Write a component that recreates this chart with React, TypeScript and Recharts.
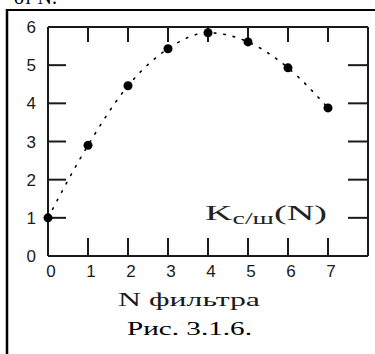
import React from 'react';
import { ComposedChart, Line, XAxis, YAxis, ReferenceLine } from 'recharts';

// Signal-to-noise gain of each filter
const filterNumbers = [0, 1, 2, 3, 4, 5, 6, 7];
const snrGain = [1.0, 2.9, 4.46, 5.43, 5.85, 5.61, 4.93, 3.88];

// Axis ticks
const xTicks = [0, 1, 2, 3, 4, 5, 6, 7, 8];
const xTickLabels = ['0', '1', '2', '3', '4', '5', '6', '7', ''];
const yTicks = [0, 1, 2, 3, 4, 5, 6];
const yTickLabels = ['0', '1', '2', '3', '4', '5', '6'];

const data = filterNumbers.map((n, i) => ({ n, k: snrGain[i] }));

// Layout
const W = 375;
const H = 354;
const LEFT = 48;
const RIGHT = 7;
const TOP = 27;
const BOTTOM = 98;
const X_MAX = 8;
const Y_MAX = 6;
const pxPerX = (W - LEFT - RIGHT) / X_MAX;
const pxPerY = (H - TOP - BOTTOM) / Y_MAX;

// Inward frame tick lengths, in pixels
const TICK_BOTTOM = 18;
const TICK_TOP = 15;
const TICK_LEFT = 18;
const TICK_RIGHT = 20;

const INK = '#1a1a1a';
const tickFont = '"Liberation Sans", Arial, sans-serif';
const serif = '"Liberation Serif", "Times New Roman", serif';

const renderBottomLabel = (props: any) => {
  const { x, y, index } = props;
  return (
    <text key={`b-${index}`} x={Number(x) + 3} y={Number(y) + 21} textAnchor="middle" fontFamily={tickFont} fontSize={17} fill={INK}>
      {xTickLabels[index] ?? ''}
    </text>
  );
};

const renderLeftLabel = (props: any) => {
  const { x, y, index } = props;
  return (
    <text key={`l-${index}`} x={Number(x) - 12} y={Number(y) + 6} textAnchor="end" fontFamily={tickFont} fontSize={17} fill={INK}>
      {yTickLabels[index] ?? ''}
    </text>
  );
};

export default function App() {
  const axisLine = { stroke: INK, strokeWidth: 2 };
  const innerX = xTicks.slice(1, -1);
  const innerY = yTicks.slice(1, -1);
  const seg = { xAxisId: 'bottom', yAxisId: 'left', stroke: INK, strokeWidth: 2, ifOverflow: 'visible' as const };
  return (
    <div style={{ position: 'absolute', left: 0, top: 0, width: W, height: H, background: '#fff' }}>
      <ComposedChart width={W} height={H} data={data} margin={{ top: 0, right: 0, bottom: 0, left: 0 }}>
        <XAxis
          xAxisId="bottom"
          dataKey="n"
          type="number"
          domain={[0, X_MAX]}
          ticks={xTicks}
          interval={0}
          height={BOTTOM}
          tickSize={0}
          tickMargin={0}
          axisLine={axisLine}
          tickLine={false}
          tick={renderBottomLabel}
        />
        <XAxis
          xAxisId="top"
          orientation="top"
          dataKey="n"
          type="number"
          domain={[0, X_MAX]}
          ticks={xTicks}
          height={TOP}
          axisLine={axisLine}
          tickLine={false}
          tick={false}
        />
        <YAxis
          yAxisId="left"
          orientation="left"
          type="number"
          domain={[0, Y_MAX]}
          ticks={yTicks}
          interval={0}
          width={LEFT}
          tickSize={0}
          tickMargin={0}
          axisLine={axisLine}
          tickLine={false}
          tick={renderLeftLabel}
        />
        <YAxis
          yAxisId="right"
          orientation="right"
          type="number"
          domain={[0, Y_MAX]}
          ticks={yTicks}
          width={RIGHT}
          axisLine={axisLine}
          tickLine={false}
          tick={false}
        />
        {innerX.map((v) => (
          <ReferenceLine key={`tb-${v}`} {...seg} segment={[{ x: v, y: 0 }, { x: v, y: TICK_BOTTOM / pxPerY }]} />
        ))}
        {innerX.map((v) => (
          <ReferenceLine key={`tt-${v}`} {...seg} segment={[{ x: v, y: Y_MAX }, { x: v, y: Y_MAX - TICK_TOP / pxPerY }]} />
        ))}
        {innerY.map((v) => (
          <ReferenceLine key={`tl-${v}`} {...seg} segment={[{ x: 0, y: v }, { x: TICK_LEFT / pxPerX, y: v }]} />
        ))}
        {innerY.map((v) => (
          <ReferenceLine key={`tr-${v}`} {...seg} segment={[{ x: X_MAX, y: v }, { x: X_MAX - TICK_RIGHT / pxPerX, y: v }]} />
        ))}
        <Line
          xAxisId="bottom"
          yAxisId="left"
          type="monotone"
          dataKey="k"
          stroke="#000"
          strokeWidth={1.6}
          strokeDasharray="1.6 8"
          strokeLinecap="round"
          dot={{ r: 4.5, fill: '#000', stroke: 'none', strokeDasharray: 'none' }}
          isAnimationActive={false}
        />
      </ComposedChart>
      <svg
        width={W}
        height={H}
        style={{ position: 'absolute', left: 0, top: 0, pointerEvents: 'none' }}
      >
        <text x={14} y={4} fontFamily={serif} fontSize={20} fill="#000">от N.</text>
        <line x1={7} y1={10} x2={W} y2={10} stroke="#000" strokeWidth={2} />
        <line x1={7} y1={9} x2={7} y2={H} stroke="#000" strokeWidth={2.5} />
        <text x={205} y={220} fontFamily={serif} fontSize={22} fill="#222" textLength={122} lengthAdjust="spacingAndGlyphs">
          K<tspan fontSize={16} dy={4}>с/ш</tspan><tspan dy={-4}>(N)</tspan>
        </text>
        <text x={118} y={306} fontFamily={serif} fontSize={18} fill={INK} textLength={142} lengthAdjust="spacingAndGlyphs">
          N фильтра
        </text>
        <text x={127} y={335} fontFamily={serif} fontSize={19} fill="#000" textLength={125} lengthAdjust="spacingAndGlyphs">
          Рис. 3.1.6.
        </text>
      </svg>
    </div>
  );
}
